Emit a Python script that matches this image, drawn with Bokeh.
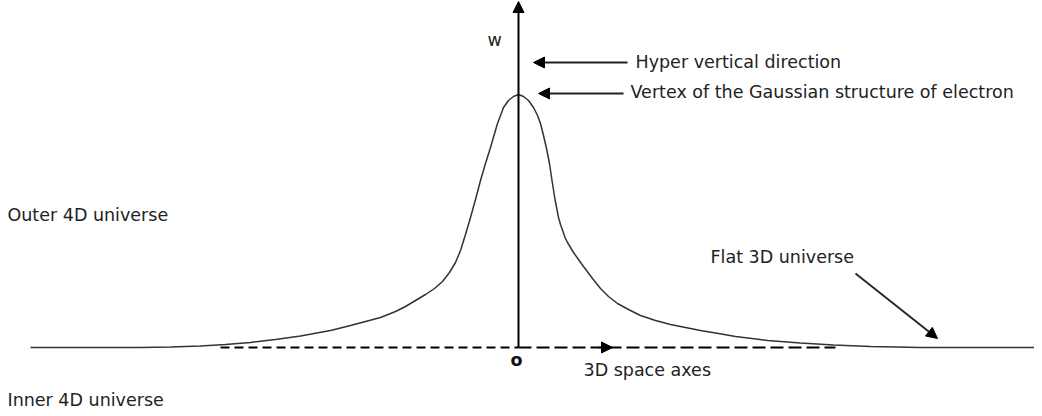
from bokeh.plotting import figure
from bokeh.models import Arrow, NormalHead, ColumnDataSource
from bokeh.core.properties import value
from bokeh.embed import file_html
from bokeh.resources import INLINE

# Curve of the electron's Gaussian structure (x offset from vertex, height w)
left_x = [-488, -378, -348, -318, -293, -268, -243, -218, -188, -168, -153, -138, -123, -113, -103,
          -93, -84, -76, -69, -63, -58, -53, -48, -43, -38, -33, -28, -24.5, -21, -18, -15, -10, -5, 0]
left_w = [0, 0, 0.5, 1.5, 3, 5, 8, 11.5, 17, 22, 26, 30, 36, 41, 47,
          53, 59, 66, 75, 85, 97, 113, 130, 148, 167, 184, 200, 212, 224, 232, 240, 247, 251, 253]
right_x = [0, 5, 10, 15, 19, 22, 25, 28, 31, 33.5, 36.5, 40, 42, 44.5, 46.5, 49, 52, 55, 65, 74, 82,
           90, 99, 110, 122, 137, 152, 182, 200, 217, 249, 282, 315, 352, 402, 524]
right_w = [253, 251, 247, 240, 232, 224, 212, 199, 184, 167, 148, 130, 123, 116, 110, 105, 100, 95, 81, 69, 59,
           51, 44, 38, 32, 27, 23, 17, 14, 11, 7, 4.5, 2.5, 1, 0, 0]

# 3D space axis (dashed) extents and hyper vertical axis
axis_left_x = [-298, 0]
axis_right_x = [0, 317]
axis_y = [0, 0]
vert_axis_top = 346

# Labels
labels_text = ["w", "Hyper vertical direction", "Vertex of the Gaussian structure of electron",
               "Outer 4D universe", "Inner 4D universe", "Flat 3D universe", "3D space axes"]
labels_x = [-31, 117, 112, -511, -511, 192, 65]
labels_y = [308, 286, 256, 133, -52, 91, -22]

# Annotation arrows: start -> end
arrows_x0 = [109, 105, 337, 80]
arrows_y0 = [285, 254, 74, 0]
arrows_x1 = [15, 20, 419, 94]
arrows_y1 = [285, 254, 9, 0]

p = figure(width=1034, height=408, x_range=(-518, 516), y_range=(-61, 347),
           x_axis_type=None, y_axis_type=None, toolbar_location=None,
           output_backend="svg", min_border=0)
p.outline_line_color = None
p.background_fill_color = "white"
p.border_fill_color = "white"

# dashed 3D axis
p.line(axis_left_x, axis_y, line_color="black", line_width=2, line_dash="9 5")
p.line(axis_right_x, axis_y, line_color="black", line_width=2, line_dash="13 5")

# curve
p.line(left_x, left_w, line_color="#333333", line_width=1.5)
p.line(right_x, right_w, line_color="#333333", line_width=1.5)

# vertical axis with arrow
p.add_layout(Arrow(end=NormalHead(size=11, fill_color="black", line_color="black"),
                   x_start=0, y_start=0, x_end=0, y_end=vert_axis_top,
                   line_color="black", line_width=2))

for x0, y0, x1, y1 in zip(arrows_x0, arrows_y0, arrows_x1, arrows_y1):
    p.add_layout(Arrow(end=NormalHead(size=11, fill_color="black", line_color="black"),
                       x_start=x0, y_start=y0, x_end=x1, y_end=y1,
                       line_color="#222222", line_width=1.8))

src = ColumnDataSource(dict(x=labels_x, y=labels_y, text=labels_text))
p.text(x="x", y="y", text="text", source=src, text_font=value("DejaVu Sans"),
       text_font_size="17.5px", text_baseline="alphabetic", text_align="left",
       text_color="#222222")

# origin marker
p.text(x=[-2], y=[-12], text=["o"], text_font=value("DejaVu Sans"),
       text_font_size="17.5px", text_font_style="bold", text_baseline="alphabetic",
       text_align="center", text_color="#111111")

open("out.html", "w").write(file_html(p, INLINE))
